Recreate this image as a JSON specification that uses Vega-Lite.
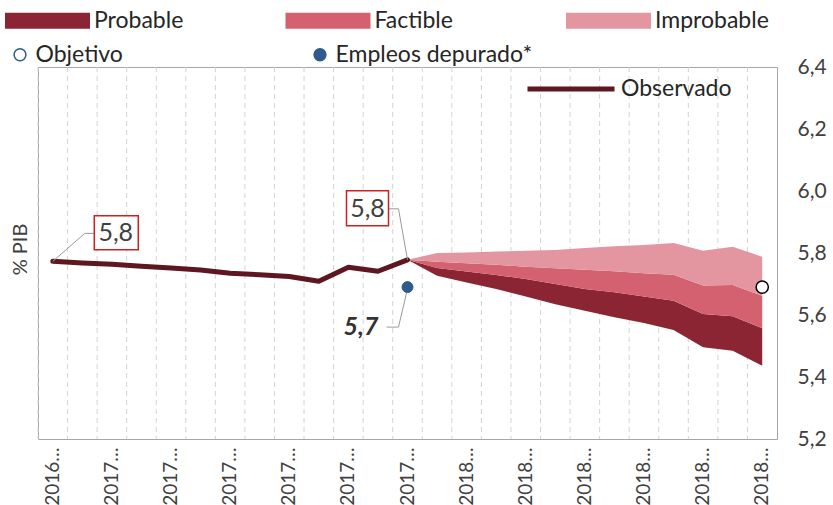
{
  "$schema": "https://vega.github.io/schema/vega-lite/v6.json",
  "width": 739,
  "height": 372,
  "autosize": {"type": "none"},
  "padding": {"left": 38, "top": 67, "right": 56, "bottom": 66},
  "background": "white",
  "config": {
    "font": "Lato",
    "locale": {"number": {"decimal": ",", "thousands": ".", "grouping": [3], "currency": ["", " €"]}},
    "view": {"stroke": "#A6A6A6", "strokeWidth": 1},
    "axis": {"labelFont": "Lato", "titleFont": "Lato", "labelColor": "#404040", "titleColor": "#404040"},
    "legend": {"labelFont": "Lato", "labelColor": "#262626", "labelFontSize": 23, "padding": 0, "titlePadding": 0, "labelLimit": 400}
  },
  "datasets": {
    "meses": [
      {"mes": "2016-12"}, {"mes": "2017-01"}, {"mes": "2017-02"}, {"mes": "2017-03"}, {"mes": "2017-04"},
      {"mes": "2017-05"}, {"mes": "2017-06"}, {"mes": "2017-07"}, {"mes": "2017-08"}, {"mes": "2017-09"},
      {"mes": "2017-10"}, {"mes": "2017-11"}, {"mes": "2017-12"}, {"mes": "2018-01"}, {"mes": "2018-02"},
      {"mes": "2018-03"}, {"mes": "2018-04"}, {"mes": "2018-05"}, {"mes": "2018-06"}, {"mes": "2018-07"},
      {"mes": "2018-08"}, {"mes": "2018-09"}, {"mes": "2018-10"}, {"mes": "2018-11"}, {"mes": "2018-12"}
    ],
    "observado": [
      {"mes": "2016-12", "valor": 5.773},
      {"mes": "2017-01", "valor": 5.768},
      {"mes": "2017-02", "valor": 5.764},
      {"mes": "2017-03", "valor": 5.757},
      {"mes": "2017-04", "valor": 5.752},
      {"mes": "2017-05", "valor": 5.745},
      {"mes": "2017-06", "valor": 5.735},
      {"mes": "2017-07", "valor": 5.730},
      {"mes": "2017-08", "valor": 5.724},
      {"mes": "2017-09", "valor": 5.709},
      {"mes": "2017-10", "valor": 5.754},
      {"mes": "2017-11", "valor": 5.741},
      {"mes": "2017-12", "valor": 5.778}
    ],
    "abanico": [
      {"mes": "2017-12", "inf": 5.778, "prob": 5.778, "fact": 5.778, "impr": 5.778},
      {"mes": "2018-01", "inf": 5.727, "prob": 5.752, "fact": 5.772, "impr": 5.800},
      {"mes": "2018-02", "inf": 5.705, "prob": 5.740, "fact": 5.767, "impr": 5.802},
      {"mes": "2018-03", "inf": 5.684, "prob": 5.729, "fact": 5.762, "impr": 5.805},
      {"mes": "2018-04", "inf": 5.660, "prob": 5.716, "fact": 5.756, "impr": 5.807},
      {"mes": "2018-05", "inf": 5.635, "prob": 5.700, "fact": 5.751, "impr": 5.810},
      {"mes": "2018-06", "inf": 5.614, "prob": 5.684, "fact": 5.746, "impr": 5.816},
      {"mes": "2018-07", "inf": 5.593, "prob": 5.673, "fact": 5.741, "impr": 5.822},
      {"mes": "2018-08", "inf": 5.574, "prob": 5.660, "fact": 5.735, "impr": 5.826},
      {"mes": "2018-09", "inf": 5.552, "prob": 5.646, "fact": 5.730, "impr": 5.832},
      {"mes": "2018-10", "inf": 5.496, "prob": 5.603, "fact": 5.695, "impr": 5.807},
      {"mes": "2018-11", "inf": 5.485, "prob": 5.596, "fact": 5.697, "impr": 5.820},
      {"mes": "2018-12", "inf": 5.436, "prob": 5.557, "fact": 5.662, "impr": 5.788}
    ],
    "objetivo": [{"mes": "2018-12", "valor": 5.69}],
    "empleos": [{"mes": "2017-12", "valor": 5.69}],
    "anotaciones": [
      {"id": "inicio", "mes": "2016-12", "valor": 5.773, "etiqueta": "5,8"},
      {"id": "ultimo", "mes": "2017-12", "valor": 5.778, "etiqueta": "5,8"},
      {"id": "empleos", "mes": "2017-12", "valor": 5.69, "etiqueta": "5,7"}
    ]
  },
  "encoding": {
    "x": {
      "field": "mes",
      "type": "ordinal",
      "scale": {
        "type": "band",
        "paddingInner": 0,
        "paddingOuter": 0,
        "domain": ["2016-12", "2017-01", "2017-02", "2017-03", "2017-04", "2017-05", "2017-06", "2017-07", "2017-08", "2017-09", "2017-10", "2017-11", "2017-12", "2018-01", "2018-02", "2018-03", "2018-04", "2018-05", "2018-06", "2018-07", "2018-08", "2018-09", "2018-10", "2018-11", "2018-12"]
      },
      "axis": {
        "title": null,
        "labelAngle": -90,
        "labelAlign": "right",
        "labelBaseline": "middle",
        "labelExpr": "toNumber(slice(datum.value, 5, 7)) % 2 == 0 ? slice(datum.value, 0, 4) + '…' : ''",
        "labelOverlap": false,
        "labelFontSize": 19,
        "labelPadding": 8,
        "grid": false,
        "ticks": false,
        "domain": false
      }
    }
  },
  "layer": [
    {
      "data": {"name": "meses"},
      "mark": {"type": "rule", "color": "#D3D3D3", "strokeDash": [5, 4], "strokeWidth": 1},
      "encoding": {
        "x": {
          "field": "mes",
          "type": "ordinal",
          "bandPosition": 0,
          "scale": {
            "type": "band",
            "paddingInner": 0,
            "paddingOuter": 0,
            "domain": ["2016-12", "2017-01", "2017-02", "2017-03", "2017-04", "2017-05", "2017-06", "2017-07", "2017-08", "2017-09", "2017-10", "2017-11", "2017-12", "2018-01", "2018-02", "2018-03", "2018-04", "2018-05", "2018-06", "2018-07", "2018-08", "2018-09", "2018-10", "2018-11", "2018-12"]
          },
          "axis": {
            "title": null,
            "labelAngle": -90,
            "labelAlign": "right",
            "labelBaseline": "middle",
            "labelExpr": "toNumber(slice(datum.value, 5, 7)) % 2 == 0 ? slice(datum.value, 0, 4) + '…' : ''",
            "labelOverlap": false,
            "labelFontSize": 19,
            "labelPadding": 8,
            "grid": false,
            "ticks": false,
            "domain": false
          }
        }
      }
    },
    {
      "data": {"name": "abanico"},
      "mark": {"type": "area", "opacity": 1},
      "encoding": {
        "y": {
          "field": "inf",
          "type": "quantitative",
          "scale": {"domain": [5.2, 6.4], "nice": false, "zero": false},
          "axis": {
            "orient": "right",
            "title": "% PIB",
            "titleX": -757,
            "titleY": 182,
            "titleAngle": -90,
            "titleAlign": "center",
            "titleBaseline": "middle",
            "titleFontSize": 20,
            "titleFontWeight": "normal",
            "values": [5.2, 5.4, 5.6, 5.8, 6.0, 6.2, 6.4],
            "format": ".1f",
            "labelFontSize": 21,
            "labelPadding": 20,
            "ticks": false,
            "domain": false,
            "grid": false
          }
        },
        "y2": {"field": "prob"},
        "fill": {
          "datum": "Probable",
          "scale": {"domain": ["Probable", "Factible", "Improbable"], "range": ["#8C2533", "#D4616F", "#E3969F"]},
          "legend": {
            "orient": "none",
            "legendX": -33,
            "legendY": -89,
            "direction": "horizontal",
            "columns": 3,
            "gridAlign": "all",
            "columnPadding": 77.5,
            "title": null,
            "symbolType": "M-1,-0.19H1V0.19H-1Z",
            "symbolSize": 7225,
            "symbolStrokeWidth": 0,
            "labelFontSize": 23
          }
        }
      }
    },
    {
      "data": {"name": "abanico"},
      "mark": {"type": "area", "opacity": 1},
      "encoding": {
        "y": {"field": "prob", "type": "quantitative"},
        "y2": {"field": "fact"},
        "fill": {"datum": "Factible"}
      }
    },
    {
      "data": {"name": "abanico"},
      "mark": {"type": "area", "opacity": 1},
      "encoding": {
        "y": {"field": "fact", "type": "quantitative"},
        "y2": {"field": "impr"},
        "fill": {"datum": "Improbable"}
      }
    },
    {
      "data": {"name": "observado"},
      "mark": {"type": "line", "strokeWidth": 5, "strokeCap": "round", "strokeJoin": "round"},
      "encoding": {
        "y": {"field": "valor", "type": "quantitative"},
        "stroke": {
          "datum": "Observado",
          "scale": {"domain": ["Observado"], "range": ["#5E1620"]},
          "legend": {
            "orient": "none",
            "legendX": 487,
            "legendY": -24,
            "title": null,
            "symbolType": "stroke",
            "symbolSize": 7569,
            "symbolStrokeWidth": 5,
            "labelFontSize": 23
          }
        }
      }
    },
    {
      "data": {"name": "objetivo"},
      "mark": {"type": "point", "shape": "circle", "filled": true, "stroke": "#000000", "strokeWidth": 1.5, "size": 150, "opacity": 1},
      "encoding": {
        "y": {"field": "valor", "type": "quantitative"},
        "color": {
          "datum": "Objetivo",
          "scale": {"domain": ["Objetivo", "Empleos depurado*"], "range": ["#ffffff", "#2D5B8C"]},
          "legend": {
            "orient": "none",
            "legendX": -29.5,
            "legendY": -24,
            "direction": "horizontal",
            "columns": 2,
            "columnPadding": 185,
            "title": null,
            "symbolType": "circle",
            "symbolSize": 140,
            "symbolStrokeColor": "#000000",
            "symbolStrokeWidth": 1.5,
            "symbolOpacity": 1,
            "labelFontSize": 23,
            "labelLimit": 400
          }
        }
      }
    },
    {
      "data": {"name": "empleos"},
      "mark": {"type": "point", "shape": "circle", "filled": true, "stroke": "#2D5B8C", "strokeWidth": 1, "size": 120, "opacity": 1},
      "encoding": {
        "y": {"field": "valor", "type": "quantitative"},
        "color": {"datum": "Empleos depurado*"}
      }
    },
    {
      "data": {"name": "anotaciones"},
      "transform": [{"filter": "datum.id === 'inicio'"}],
      "mark": {"type": "point", "shape": "M0,0L32,-28H41.5", "size": 4, "filled": false, "stroke": "#9A9A9A", "strokeWidth": 1, "opacity": 1},
      "encoding": {"y": {"field": "valor", "type": "quantitative"}}
    },
    {
      "data": {"name": "anotaciones"},
      "transform": [{"filter": "datum.id === 'ultimo'"}],
      "mark": {"type": "point", "shape": "M0,0L-9,-51H-19", "size": 4, "filled": false, "stroke": "#9A9A9A", "strokeWidth": 1, "opacity": 1},
      "encoding": {"y": {"field": "valor", "type": "quantitative"}}
    },
    {
      "data": {"name": "anotaciones"},
      "transform": [{"filter": "datum.id === 'empleos'"}],
      "mark": {"type": "point", "shape": "M-1,6L-9,40H-21", "size": 4, "filled": false, "stroke": "#9A9A9A", "strokeWidth": 1, "opacity": 1},
      "encoding": {"y": {"field": "valor", "type": "quantitative"}}
    },
    {
      "data": {"name": "anotaciones"},
      "transform": [{"filter": "datum.id === 'inicio'"}],
      "mark": {"type": "point", "shape": "M41.5,-45.5H85.5V-11.5H41.5Z", "size": 4, "filled": true, "fill": "#ffffff", "stroke": "#D01F1F", "strokeWidth": 1.5, "opacity": 1},
      "encoding": {"y": {"field": "valor", "type": "quantitative"}}
    },
    {
      "data": {"name": "anotaciones"},
      "transform": [{"filter": "datum.id === 'ultimo'"}],
      "mark": {"type": "point", "shape": "M-61,-69H-19V-34H-61Z", "size": 4, "filled": true, "fill": "#ffffff", "stroke": "#D01F1F", "strokeWidth": 1.5, "opacity": 1},
      "encoding": {"y": {"field": "valor", "type": "quantitative"}}
    },
    {
      "data": {"name": "anotaciones"},
      "transform": [{"filter": "datum.id === 'inicio'"}],
      "mark": {"type": "text", "dx": 63, "dy": -28, "align": "center", "baseline": "middle", "font": "Lato", "fontSize": 25, "color": "#404040"},
      "encoding": {"y": {"field": "valor", "type": "quantitative"}, "text": {"field": "etiqueta"}}
    },
    {
      "data": {"name": "anotaciones"},
      "transform": [{"filter": "datum.id === 'ultimo'"}],
      "mark": {"type": "text", "dx": -40, "dy": -51, "align": "center", "baseline": "middle", "font": "Lato", "fontSize": 25, "color": "#404040"},
      "encoding": {"y": {"field": "valor", "type": "quantitative"}, "text": {"field": "etiqueta"}}
    },
    {
      "data": {"name": "anotaciones"},
      "transform": [{"filter": "datum.id === 'empleos'"}],
      "mark": {"type": "text", "dx": -29, "dy": 40, "align": "right", "baseline": "middle", "font": "Lato", "fontSize": 25, "fontWeight": "bold", "fontStyle": "italic", "color": "#333333"},
      "encoding": {"y": {"field": "valor", "type": "quantitative"}, "text": {"field": "etiqueta"}}
    }
  ]
}
